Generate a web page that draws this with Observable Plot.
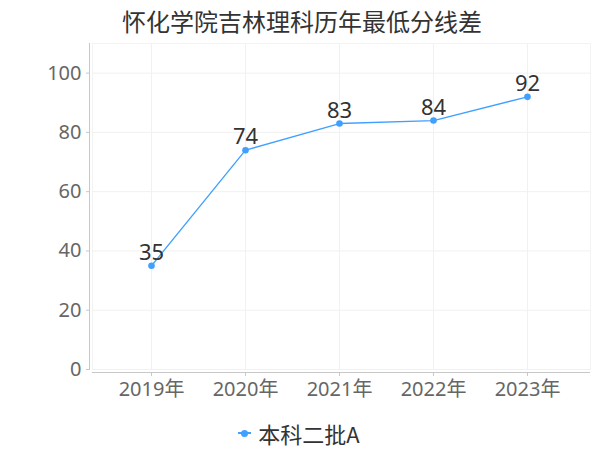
<!DOCTYPE html>
<html>
<head>
<meta charset="utf-8">
<script src="https://cdn.jsdelivr.net/npm/d3@7"></script>
<script src="https://cdn.jsdelivr.net/npm/@observablehq/plot@0.6"></script>
<style>
  html, body { margin: 0; padding: 0; background: #fff; }
  #wrap { position: relative; width: 600px; height: 450px; font-family: "Noto Sans", "Noto Sans CJK SC", sans-serif; }
  #title { position: absolute; top: 4px; left: 0; width: 604px; text-align: center; font-size: 24px; color: #333; font-family: "Noto Sans CJK SC", sans-serif; line-height: 34px; }
  #legend { position: absolute; top: 418px; left: 0; width: 600px; display: flex; justify-content: center; align-items: center; font-size: 22px; color: #333; line-height: 30px; }
  #legend .key { position: relative; width: 13px; height: 2px; background: #3fa0ff; margin-right: 7px; margin-left: -2px; }
  #legend .key::after { content: ""; position: absolute; left: 3px; top: -2.5px; width: 7px; height: 7px; border-radius: 50%; background: #3fa0ff; }
  #legend span.name { font-family: "Noto Sans CJK SC", sans-serif; }
  #chart { position: absolute; top: 0; left: 0; }
</style>
</head>
<body>
<div id="wrap">
  <div id="chart"></div>
  <div id="title"></div>
  <div id="legend"><div class="key"></div><span class="name"></span></div>
</div>
<script>
const titleText = "怀化学院吉林理科历年最低分线差";
const seriesName = "本科二批A";
const years = ["2019年", "2020年", "2021年", "2022年", "2023年"];
const scores = [35, 74, 83, 84, 92];
const yTicks = [0, 20, 40, 60, 80, 100];

const data = years.map((year, i) => ({year, score: scores[i]}));
const lineColor = "#3fa0ff";

document.getElementById("title").textContent = titleText;
document.querySelector("#legend .name").textContent = seriesName;

const chart = Plot.plot({
  width: 600,
  height: 450,
  marginTop: 43,
  marginBottom: 81,
  marginLeft: 92,
  marginRight: 10,
  style: {fontFamily: '"Noto Sans", "Noto Sans CJK SC", sans-serif', color: "#666", background: "transparent"},
  x: {type: "point", domain: years, padding: 0.62, insetRight: 4, label: null},
  y: {domain: [0, 110], label: null},
  marks: [
    Plot.frame({stroke: "#f3f3f3"}),
    Plot.gridY(yTicks, {stroke: "#f1f1f1", strokeOpacity: 1}),
    Plot.gridX({stroke: "#f1f1f1", strokeOpacity: 1}),
    Plot.ruleY([0], {dy: 3, stroke: "#c8c8c8"}),
    Plot.frame({anchor: "left", dx: -3, stroke: "#c8c8c8"}),
    Plot.axisY(yTicks, {tickSize: 3, dx: -3, tickPadding: 5, fontSize: 20, stroke: "#c8c8c8", fill: "#666", label: null}),
    Plot.axisX({tickSize: 4, dy: 3, tickPadding: 5, fontSize: 20, stroke: "#c8c8c8", fill: "#666", label: null}),
    Plot.line(data, {x: "year", y: "score", stroke: lineColor, strokeWidth: 1.3}),
    Plot.dot(data, {x: "year", y: "score", r: 3.3, fill: lineColor}),
    Plot.text(data, {x: "year", y: "score", text: d => String(d.score), dy: -13, fontSize: 22, fill: "#333"})
  ]
});
document.getElementById("chart").appendChild(chart);
</script>
</body>
</html>
